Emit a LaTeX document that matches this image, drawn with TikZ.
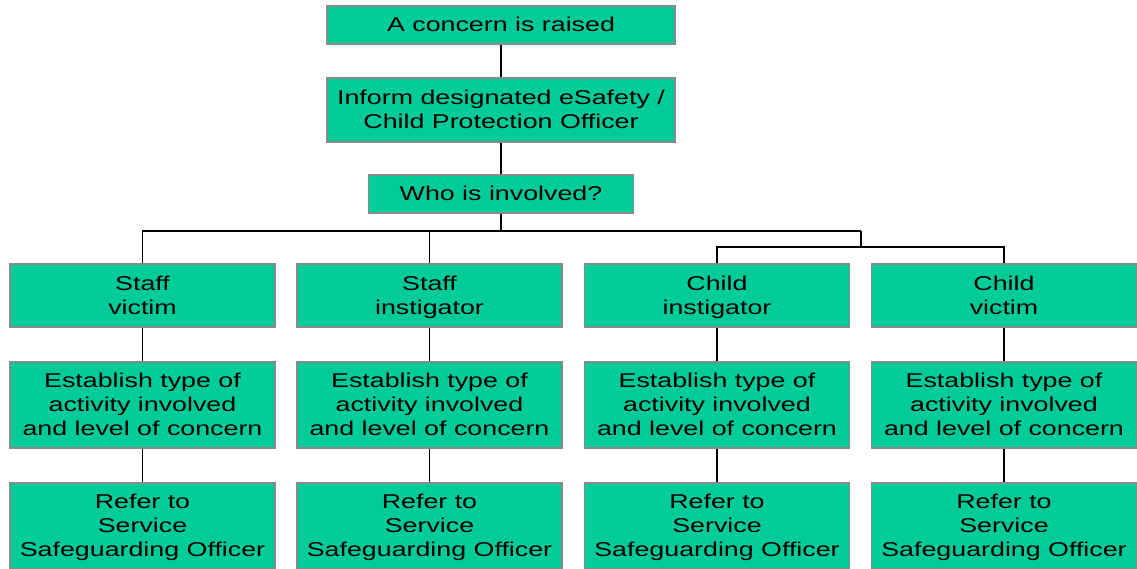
\documentclass[tikz,border=0pt]{standalone}
\usepackage{fontspec}
\setmainfont{Liberation Sans}[FakeStretch=1.34]
\newcommand\mystrut{\rule[-5.5pt]{0pt}{24pt}}
\begin{document}
\begin{tikzpicture}[x=1pt,y=-1pt,
  box/.style={draw=boxborder,fill=boxfill,line width=1.5pt,inner sep=0pt,
    align=center,font=\fontsize{20}{24}\selectfont,text=black},
  link/.style={draw=black,line width=1.5pt}]
\definecolor{boxfill}{HTML}{00CC99}
\definecolor{boxborder}{HTML}{8A8A8A}
\useasboundingbox (0,0) rectangle (1137,568);
\node[box,minimum width=348pt,minimum height=38pt] (top) at (501,25) {\mystrut A concern is raised};
\node[box,minimum width=348pt,minimum height=64pt] (inform) at (501,110) {\mystrut Inform designated eSafety /\\\mystrut Child Protection Officer};
\node[box,minimum width=265pt,minimum height=38pt] (who) at (501,194) {\mystrut Who is involved?};
\foreach \n/\x/\a/\b in {sv/142.5/Staff/victim, si/429.5/Staff/instigator, ci/717/Child/instigator, cv/1004/Child/victim}{
  \node[box,minimum width=265pt,minimum height=63pt] (\n) at (\x,295.5) {\mystrut\a\\\mystrut\b};
  \node[box,minimum width=265pt,minimum height=86pt] (\n e) at (\x,405) {\mystrut Establish type of\\\mystrut activity involved\\\mystrut and level of concern};
  \node[box,minimum width=265pt,minimum height=86pt] (\n r) at (\x,526) {\mystrut Refer to\\\mystrut Service\\\mystrut Safeguarding Officer};
  \draw[link] (\n.south) -- (\n e.north);
  \draw[link] (\n e.south) -- (\n r.north);
}
\coordinate (j1) at (501,231);
\coordinate (j2) at (861,231);
\coordinate (j3) at (861,247);
\draw[link] (top.south) -- (inform.north);
\draw[link] (inform.south) -- (who.north);
\draw[link] (who.south) -- (j1);
\draw[link] (sv.north) |- (j2);
\draw[link] (si.north) -- (si.north |- j2);
\draw[link] (j2) -- (j3);
\draw[link] (ci.north) |- (j3);
\draw[link] (cv.north) |- (j3);
\end{tikzpicture}
\end{document}
